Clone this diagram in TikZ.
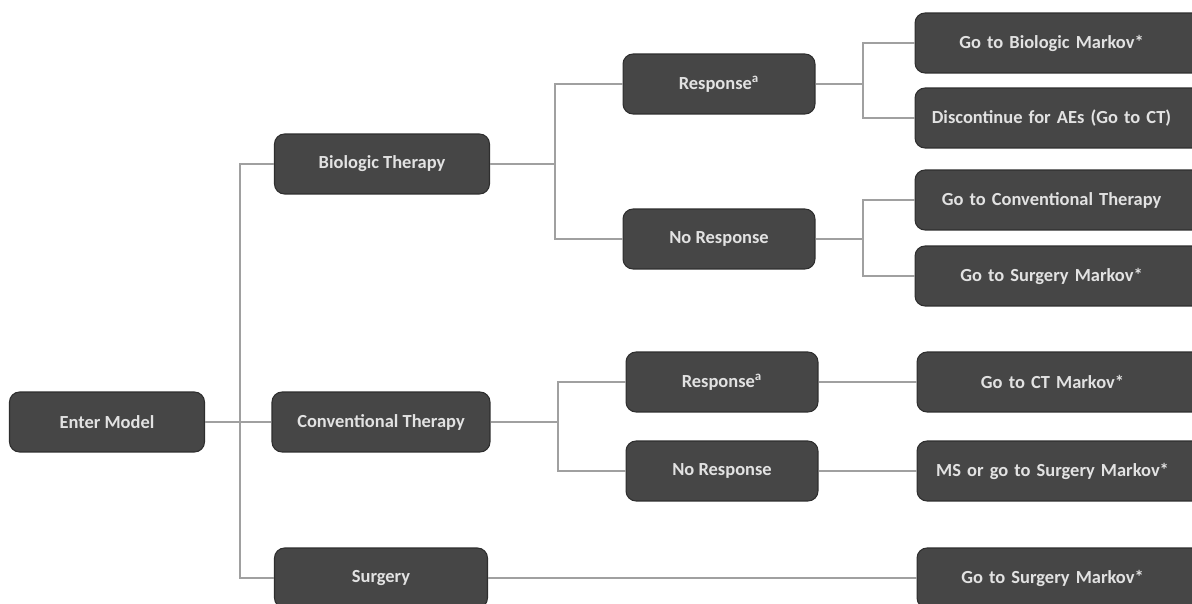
\documentclass[tikz,border=0pt]{standalone}
\usepackage{fontspec}
\setmainfont{Carlito}
\usepackage{xcolor}

\begin{document}
\begin{tikzpicture}[x=0.02cm,y=-0.02cm]
    \definecolor{BoxGray}{HTML}{464646}
    \definecolor{EdgeGray}{HTML}{2e2e2e}
    \definecolor{TextGray}{HTML}{e2e2e2}
    \definecolor{LinkGray}{HTML}{a0a0a0}
    \tikzset{
        box/.style={draw=EdgeGray, fill=BoxGray, rounded corners=0.2cm, line width=0.6pt,
            text=TextGray, font=\bfseries\fontsize{10.5}{12}\selectfont,
            minimum height=1.2cm, inner sep=2pt},
        link/.style={draw=LinkGray, line width=1pt}
    }
    \clip (0,0) rectangle (1192,604);
    \fill[white] (0,0) rectangle (1192,604);
    % first level
    \node[box, minimum width=3.9cm] (enter) at (107,422) {Enter Model};
    \node[box, minimum width=4.3cm] (bio) at (382,164) {Biologic Therapy};
    \node[box, minimum width=4.36cm] (conv) at (381,422) {Conventional Therapy};
    \node[box, minimum width=4.26cm] (surg) at (381,578) {Surgery};
    % second level
    \node[box, minimum width=3.84cm] (bresp) at (719,84) {Response\textsuperscript{a}};
    \node[box, minimum width=3.84cm] (bnoresp) at (719,239) {No Response};
    \node[box, minimum width=3.84cm] (cresp) at (722,382) {Response\textsuperscript{a}};
    \node[box, minimum width=3.84cm] (cnoresp) at (722,471) {No Response};
    % outcomes
    \foreach \name/\ypos/\txt in {
        gobio/43/{Go to Biologic Markov*},
        disc/118/{Discontinue for AEs (Go to CT)},
        goconv/200/{Go to Conventional Therapy},
        gosurgA/276/{Go to Surgery Markov*}}{
        \node[box, minimum width=5.76cm, text width=5.5cm, align=center] (\name) at (1059,\ypos) {\hspace*{-0.3cm}\txt};
    }
    \foreach \name/\ypos/\txt in {
        goct/382/{Go to CT Markov*},
        ms/471/{MS or go to Surgery Markov*},
        gosurgB/578/{Go to Surgery Markov*}}{
        \node[box, minimum width=5.72cm, text width=5.5cm, align=center] (\name) at (1060,\ypos) {\hspace*{-0.3cm}\txt};
    }
    % junctions
    \coordinate (j0) at (240,422);
    \coordinate (j1) at (555,164);
    \coordinate (j2) at (863,84);
    \coordinate (j3) at (863,239);
    \coordinate (j4) at (558,422);
    \draw[link] (enter.east) -- (j0);
    \foreach \kid in {bio, conv, surg}
        \draw[link] (\kid.west) -| (j0);
    \draw[link] (bio.east) -- (j1);
    \foreach \kid in {bresp, bnoresp}
        \draw[link] (\kid.west) -| (j1);
    \draw[link] (bresp.east) -- (j2);
    \foreach \kid in {gobio, disc}
        \draw[link] (\kid.west) -| (j2);
    \draw[link] (bnoresp.east) -- (j3);
    \foreach \kid in {goconv, gosurgA}
        \draw[link] (\kid.west) -| (j3);
    \draw[link] (conv.east) -- (j4);
    \foreach \kid in {cresp, cnoresp}
        \draw[link] (\kid.west) -| (j4);
    \draw[link] (cresp.east) -- (goct.west);
    \draw[link] (cnoresp.east) -- (ms.west);
    \draw[link] (surg.east) -- (gosurgB.west);
\end{tikzpicture}
\end{document}
